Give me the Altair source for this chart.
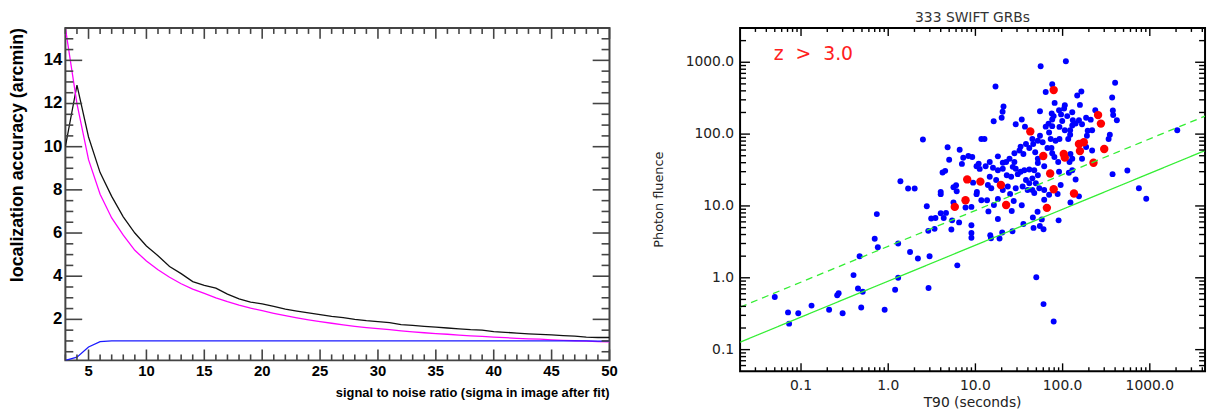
import altair as alt
import pandas as pd

# ---------------- left panel: localization accuracy vs S/N ----------------
snr = list(range(3, 51))
acc_measured = [10.0, 12.85, 10.45, 8.8, 7.7, 6.75, 6.0, 5.4, 4.95, 4.45, 4.12, 3.75,
                3.58, 3.45, 3.17, 2.95, 2.8, 2.72, 2.6, 2.47, 2.38, 2.3, 2.22, 2.14,
                2.08, 2.0, 1.94, 1.9, 1.85, 1.76, 1.72, 1.68, 1.64, 1.6, 1.56, 1.52,
                1.5, 1.43, 1.4, 1.36, 1.33, 1.3, 1.28, 1.25, 1.22, 1.18, 1.16, 1.16]
acc_predicted = [15.5, 12.0, 9.4, 7.8, 6.7, 5.9, 5.2, 4.7, 4.3, 3.95, 3.65, 3.4,
                 3.2, 3.0, 2.82, 2.66, 2.52, 2.4, 2.28, 2.17, 2.07, 1.98, 1.9, 1.82,
                 1.75, 1.68, 1.62, 1.57, 1.52, 1.47, 1.42, 1.38, 1.34, 1.31, 1.27, 1.24,
                 1.21, 1.18, 1.15, 1.12, 1.1, 1.08, 1.05, 1.03, 1.01, 0.99, 0.97, 0.96]
acc_systematic = [0.1, 0.25, 0.72, 0.97, 1.0, 1.0, 1.0, 1.0, 1.0, 1.0, 1.0, 1.0,
                  1.0, 1.0, 1.0, 1.0, 1.0, 1.0, 1.0, 1.0, 1.0, 1.0, 1.0, 1.0,
                  1.0, 1.0, 1.0, 1.0, 1.0, 1.0, 1.0, 1.0, 1.0, 1.0, 1.0, 1.0,
                  1.0, 1.0, 1.0, 1.0, 1.0, 1.0, 1.0, 1.0, 1.0, 1.0, 0.99, 0.99]
left_x_title = "signal to noise ratio (sigma in image after fit)"
left_y_title = "localization accuracy (arcmin)"

# ---------------- right panel: photon fluence vs T90 ----------------
t90_all = [0.050, 0.071, 0.093, 0.073, 0.132, 0.21, 0.30, 0.26, 0.27, 0.40, 0.45, 0.51,
           0.49, 0.47, 0.70, 0.76, 0.74, 0.91, 1.2, 1.3, 1.3, 1.78, 2.19, 2.88, 2.98,
           2.9, 2.77, 3.11, 2.5, 1.38, 1.69, 2.01, 3.48, 3.4, 4.0, 4.6, 4.33, 5.3,
           5.4, 6.5, 5.6, 7.7, 9.0, 9.0, 9.0, 9.0, 6.2, 4.0, 10.3, 11.7, 14.1, 18.1,
           14.8, 15.1, 18.9, 20.3, 26.6, 35.5, 45.6, 51.6, 57.7, 46.4, 54.8, 60.4,
           90, 123, 34, 26.1, 49.9, 60.4, 79, 13.6, 16.3, 18.1, 25, 27.5, 47.3,
           61.5, 70, 87.7, 154, 4.8, 6.6, 7.25, 8.3, 9.2, 5.0, 7.0, 10.9, 10.3, 11.2,
           11.7, 4.2, 4.5, 6.0, 5.6, 6.1, 4.0, 9.4, 10.4, 109, 56, 17, 76, 64, 164,
           147, 400, 370, 81, 158, 21, 20.5, 20, 16.2, 55, 75, 79, 76, 91, 104, 106,
           96, 113, 129, 99, 92, 34, 29, 37, 64, 69, 76, 131, 141, 154, 167, 129,
           122, 106, 186, 210, 237, 377, 380, 419, 194, 190, 218, 337, 348, 55, 52,
           59, 70, 73, 83, 92, 116, 122, 12.7, 33, 38, 41.5, 45, 46, 32, 28, 35.5,
           48.5, 52, 67, 74.5, 76, 80.5, 89, 123, 129, 120, 167, 218, 186, 18.1,
           14.6, 13.1, 20.6, 22.5, 24.6, 28, 26.8, 29, 15.9, 18.1, 20.6, 33, 36.4,
           41.5, 47.3, 52, 61.5, 22.9, 25.7, 30.6, 14.6, 17.3, 38, 45, 52, 91, 118,
           129, 141, 95, 374, 553, 13.9, 15.2, 29, 34.8, 41.5, 49.3, 39.7, 45, 54,
           61.5, 23.5, 20.6, 2065, 750, 910]
fluence_all = [0.54, 0.33, 0.32, 0.23, 0.41, 0.36, 0.32, 0.57, 0.61, 1.09, 0.71, 0.64,
               0.385, 2.0, 3.5, 2.66, 7.7, 0.36, 0.68, 1.0, 3.0, 2.29, 1.86, 4.5, 2.0,
               0.72, 9.9, 6.7, 84, 22, 17.5, 17.5, 6.8, 4.8, 7.9, 8.0, 6.8, 4.7,
               6.3, 5.9, 11.2, 9.5, 9.7, 5.4, 4.2, 3.6, 1.49, 14.6, 14.6, 12.0, 8.4, 6.6,
               3.9, 3.56, 3.53, 4.27, 4.45, 5.6, 6.9, 8.3, 6.5, 4.95, 5.27, 4.73,
               6.3, 11.2, 10.2, 8.5, 1.02, 0.43, 0.247, 12.0, 10.3, 12.5, 14.7, 11.7, 15.1,
               12.2, 14.3, 14.7, 13.6, 65.7, 60.4, 46.9, 49.5, 48, 44, 38.5, 38.8, 35.6, 32.8,
               85.5, 29.2, 30.8, 19.4, 18.2, 16, 15.7, 21.1, 15.6, 1030, 880, 459, 495, 385, 392,
               345, 520, 324, 272, 255, 242, 205, 169, 151, 208, 194, 178, 160, 215, 227, 252,
               188, 178, 202, 152, 126, 160, 137, 127, 127, 140, 129, 156, 140, 156, 137, 132,
               113, 113, 169, 159, 215, 213, 184, 156, 111, 95, 113, 85.5, 98, 95, 81,
               77, 105, 85.5, 81, 85.5, 85.5, 98, 85.5, 67, 73, 64, 85.5, 73, 59, 54, 53,
               56, 45.5, 64, 64, 54, 48, 41, 53, 45.5, 41, 45.5, 59, 66, 49,
               41, 35.6, 40, 41, 45.5, 41, 35, 33, 34, 31.4, 33, 29.9, 31.4,
               32.1, 31.4, 39.7, 35.6, 26.8, 25.5, 27.7, 25.5, 22.9, 22.9, 24.2, 26.8, 29.9, 29,
               31.4, 23.4, 19.6, 27.7, 31.1, 19.6, 17.6, 17.6, 18.6, 20.7, 20.7, 16.7, 16.7, 17.6,
               16.7, 18.6, 16.7, 113, 17.6, 12.6]
t90_highz = [79, 42.6, 255, 275, 154, 175, 158, 300, 60, 103, 106, 226, 72,
             8.05, 11.4, 19.6, 79, 135, 7.7, 5.8, 22.5, 66]
fluence_highz = [410, 109, 184, 140, 73, 77, 58, 62, 49.5, 53, 47, 40, 28.3,
                 23.4, 21.8, 19.6, 17.1, 14.9, 12.0, 9.7, 10.3, 9.4]
fit_t90 = [0.02, 4300.0]
fit_lower = [0.127, 59.0]
fit_upper = [0.39, 178.0]
z_label = "z\u00a0\u00a0>\u00a0\u00a03.0"
right_title = "333 SWIFT GRBs"
right_x_title = "T90 (seconds)"
right_y_title = "Photon fluence"

# tick positions
left_x_major = [5, 10, 15, 20, 25, 30, 35, 40, 45, 50]
left_x_minor = [v for v in range(3, 51) if v % 5]
left_y_major = [2, 4, 6, 8, 10, 12, 14]
left_y_minor = [v / 2 for v in range(1, 32) if v % 4]
log_major = [0.1, 1.0, 10.0, 100.0, 1000.0]
x_minor = [round(m * 10.0 ** e, 6) for e in range(-2, 4) for m in range(2, 10)
           if 0.02 < m * 10.0 ** e < 4300]
y_minor = [round(m * 10.0 ** e, 6) for e in range(-2, 4) for m in range(2, 10)
           if 0.05 < m * 10.0 ** e < 3000]

BOLD = "Liberation Sans, Arial, sans-serif"
SANS = "DejaVu Sans"
GRAY = "#444444"
BLACK = "#000000"

LW, LH = 550, 336
RW, RH = 470, 347

# unit stroke shapes for inward ticks (scaled by symbol size)
UP, DOWN, RIGHT, LEFT = "M0,0L0,-1", "M0,0L0,1", "M0,0L1,0", "M0,0L-1,0"


def tick_layers(xvals_major, xvals_minor, yvals_major, yvals_minor, xs, ys,
                W, H, xlen, ylen, color, width):
    """Inward-pointing ticks on all four sides, placed through the panel's scales."""
    layers = []
    for vals, L in ((xvals_major, xlen[0]), (xvals_minor, xlen[1])):
        d = pd.DataFrame({"v": vals})
        for ypos, shape in ((H, UP), (0, DOWN)):
            layers.append(alt.Chart(d).mark_point(
                shape=shape, size=4 * L * L, filled=False, color=color,
                strokeWidth=width, opacity=1
            ).encode(x=alt.X("v:Q", scale=xs, axis=None), y=alt.value(ypos)))
    for vals, L in ((yvals_major, ylen[0]), (yvals_minor, ylen[1])):
        d = pd.DataFrame({"v": vals})
        for xpos, shape in ((0, RIGHT), (W, LEFT)):
            layers.append(alt.Chart(d).mark_point(
                shape=shape, size=4 * L * L, filled=False, color=color,
                strokeWidth=width, opacity=1
            ).encode(y=alt.Y("v:Q", scale=ys, axis=None), x=alt.value(xpos)))
    return layers


def tick_labels(vals, channel, scale, fmt, pos, **mk):
    d = pd.DataFrame({"v": vals})
    if channel == "x":
        enc = dict(x=alt.X("v:Q", scale=scale, axis=None), y=alt.value(pos))
    else:
        enc = dict(y=alt.Y("v:Q", scale=scale, axis=None), x=alt.value(pos))
    return alt.Chart(d).mark_text(**mk).encode(text=alt.Text("v:Q", format=fmt), **enc)


def caption(text, x, y, **mk):
    return alt.Chart(pd.DataFrame({"t": [text]})).mark_text(**mk).encode(
        text="t:N", x=alt.value(x), y=alt.value(y))


# ---------------- left chart ----------------
n = len(snr)
left_df = pd.DataFrame({
    "snr": snr * 3,
    "acc": acc_measured + acc_predicted + acc_systematic,
    "curve": ["measured"] * n + ["predicted"] * n + ["systematic"] * n,
})
lxs = alt.Scale(domain=[3, 50], nice=False, zero=False)
lys = alt.Scale(domain=[0.1, 15.5], nice=False, zero=False)

left_lines = alt.Chart(left_df).mark_line(strokeWidth=1.3, clip=True).encode(
    x=alt.X("snr:Q", scale=lxs, axis=None),
    y=alt.Y("acc:Q", scale=lys, axis=None),
    color=alt.Color("curve:N", scale=alt.Scale(
        domain=["measured", "predicted", "systematic"],
        range=["#111111", "#ff00ff", "#1a1aff"]), legend=None),
)

left = alt.layer(
    left_lines,
    *tick_layers(left_x_major, left_x_minor, left_y_major, left_y_minor, lxs, lys,
                 LW, LH, (11, 6), (17, 8), GRAY, 1.6),
    tick_labels(left_x_major, "x", lxs, "d", LH + 11, font=BOLD, fontWeight="bold",
                fontSize=15, color="#000", align="center", baseline="middle"),
    tick_labels(left_y_major, "y", lys, "d", -3, font=BOLD, fontWeight="bold",
                fontSize=17, color="#000", align="right", baseline="middle"),
    caption(left_x_title, LW, LH + 33, font=BOLD, fontWeight="bold", fontSize=13,
            color="#000", align="right", baseline="middle"),
    caption(left_y_title, -48, 0, font=BOLD, fontWeight="bold", fontSize=18,
            color="#000", align="right", baseline="middle", angle=270),
).properties(
    width=LW, height=LH,
    view=alt.ViewBackground(stroke=GRAY, strokeWidth=2),
)

# ---------------- right chart ----------------
blue_df = pd.DataFrame({"t90": t90_all, "fluence": fluence_all})
red_df = pd.DataFrame({"t90": t90_highz, "fluence": fluence_highz})
fit_df = pd.DataFrame({
    "t90": fit_t90 * 2,
    "fluence": fit_lower + fit_upper,
    "fit": ["lower", "lower", "upper", "upper"],
})
rxs = alt.Scale(type="log", domain=[0.02, 4300], nice=False)
rys = alt.Scale(type="log", domain=[0.05, 3000], nice=False)

blue = alt.Chart(blue_df).mark_circle(color="#0000ff", size=36, opacity=1).encode(
    x=alt.X("t90:Q", scale=rxs, axis=None),
    y=alt.Y("fluence:Q", scale=rys, axis=None),
)
red = alt.Chart(red_df).mark_circle(color="#ff0000", size=72, opacity=1).encode(
    x=alt.X("t90:Q", scale=rxs, axis=None), y=alt.Y("fluence:Q", scale=rys, axis=None))
fits = alt.Chart(fit_df).mark_line(color="#33ee33", strokeWidth=1.3, clip=True).encode(
    x=alt.X("t90:Q", scale=rxs, axis=None),
    y=alt.Y("fluence:Q", scale=rys, axis=None),
    strokeDash=alt.StrokeDash("fit:N", scale=alt.Scale(
        domain=["lower", "upper"], range=[[1, 0], [7, 5]]), legend=None),
)

right = alt.layer(
    blue, red, fits,
    *tick_layers(log_major, x_minor, log_major, y_minor, rxs, rys, RW, RH,
                 (8, 4), (10, 6), BLACK, 1.4),
    caption(z_label, 34, 26, font=SANS, fontSize=19, color="#ff2020",
            align="left", baseline="middle"),
    tick_labels(log_major, "x", rxs, ".1f", RH + 15, font=SANS, fontSize=14,
                color="#222", align="center", baseline="middle"),
    tick_labels(log_major, "y", rys, ".1f", -6, font=SANS, fontSize=14,
                color="#222", align="right", baseline="middle"),
    caption(right_x_title, RW / 2, RH + 32, font=SANS, fontSize=14, color="#222",
            align="center", baseline="middle"),
    caption(right_y_title, -82, RH / 2, font=SANS, fontSize=13, color="#222",
            align="center", baseline="middle", angle=270),
).properties(
    width=RW, height=RH,
    title=alt.TitleParams(text=right_title, font=SANS, fontSize=14,
                          fontWeight="normal", color="#333", offset=0, anchor="middle"),
    view=alt.ViewBackground(stroke=BLACK, strokeWidth=2),
)

chart = alt.hconcat(left, right, spacing=33).properties(
    padding={"left": 0, "top": 0, "right": 0, "bottom": 0}
).configure(background="#ffffff")

chart.save("out.html", embed_options={"renderer": "svg", "actions": False})
